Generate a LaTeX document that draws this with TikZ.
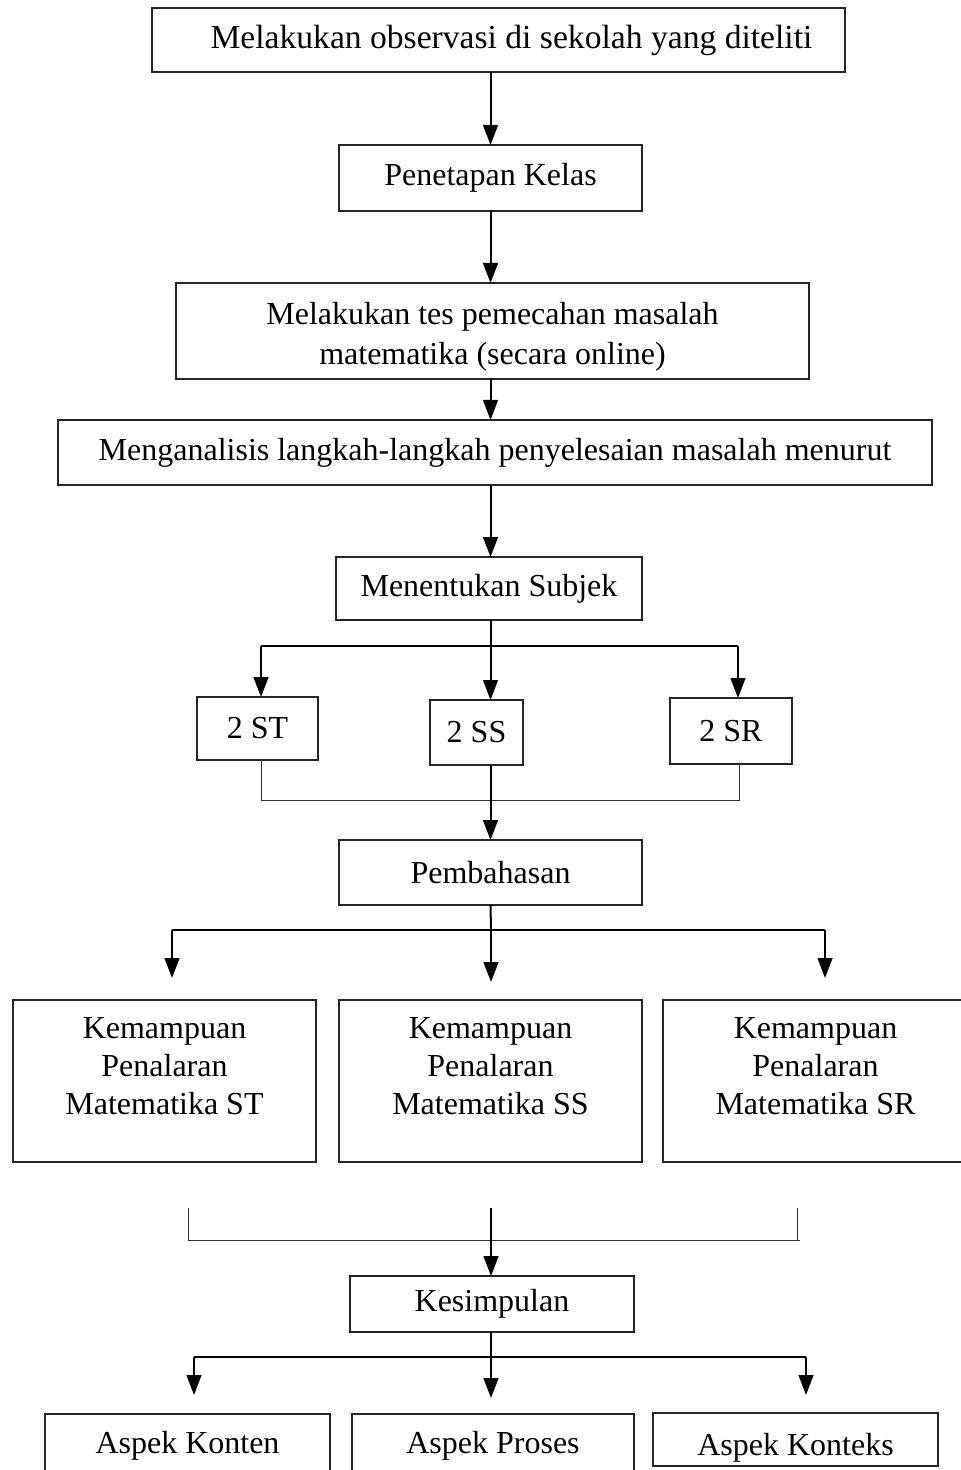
\documentclass[tikz,border=0pt]{standalone}
\usepackage{fontspec}
\setmainfont{Liberation Serif}
\usetikzlibrary{arrows.meta}
\newcommand\mybox[7][]{%
  \pgfmathsetmacro\cxx{(#3+#5)/2}\pgfmathsetmacro\cyy{(#4+#6)/2}%
  \pgfmathsetmacro\ww{(#5-#3)*0.5}\pgfmathsetmacro\hh{(#6-#4)*0.5}%
  \node[box,#1,minimum width=\ww pt,minimum height=\hh pt] (#2) at (\cxx,\cyy) {#7};}
\begin{document}
\begin{tikzpicture}[x=0.5pt,y=-0.5pt,
  box/.style={draw=black!85,line width=0.6pt,inner sep=0pt,outer sep=0pt,align=center,
    font=\fontsize{16}{19}\selectfont},
  conn/.style={line width=1pt},
  thin/.style={line width=0.5pt,draw=black!80},
  arr/.style={line width=1pt,-{Triangle[length=10pt,width=7.4pt]}}]
\clip (0,0) rectangle (961,1470);
\fill[white] (0,0) rectangle (961,1470);
% boxes
\mybox[font=\fontsize{16.8}{19}\selectfont]{b1}{152}{8}{845}{72}{\hspace*{13pt}Melakukan observasi di sekolah yang diteliti}
\mybox{b2}{339}{145}{642}{211}{Penetapan Kelas}
\mybox[font=\fontsize{16}{20}\selectfont]{b3}{176}{283}{809}{379}{\mbox{}\\[-3.5pt]Melakukan tes pemecahan masalah\\matematika (secara online)}
\mybox{b4}{58}{420}{932}{485}{Menganalisis langkah-langkah penyelesaian masalah menurut}
\mybox{b5}{336}{557}{642}{620}{Menentukan Subjek}
\mybox{st}{197}{697}{318}{760}{2 ST}
\mybox{ss}{430}{700}{523}{765}{2 SS}
\mybox{sr}{670}{698}{792}{764}{2 SR}
\mybox{pb}{339}{840}{642}{905}{Pembahasan}
\mybox{k1}{13}{1000}{316}{1162}{Kemampuan\\Penalaran\\Matematika ST\\[-4pt]\mbox{}}
\mybox{k2}{339}{1000}{642}{1162}{Kemampuan\\Penalaran\\Matematika SS\\[-4pt]\mbox{}}
\mybox{k3}{663}{1000}{968}{1162}{Kemampuan\\Penalaran\\Matematika SR\\[-4pt]\mbox{}}
\mybox{kes}{350}{1276}{634}{1332}{Kesimpulan}
\mybox{a1}{45}{1414}{330}{1478}{Aspek Konten}
\mybox{a2}{352}{1414}{634}{1478}{Aspek Proses}
\mybox[text height=15.7pt,text depth=0pt]{a3}{653}{1413}{938}{1466}{Aspek Konteks}
% coordinates
\coordinate (f1l) at (261,646);
\coordinate (f1r) at (738,646);
\coordinate (j1l) at (261,800);
\coordinate (j1r) at (739,800);
\coordinate (f2) at (491,930);
\coordinate (e2l) at (172,978);
\coordinate (e2m) at (491,982);
\coordinate (e2r) at (825,978);
\coordinate (g1) at (188,1208);
\coordinate (g2) at (797,1208);
\coordinate (gm) at (491,1208);
\coordinate (j2) at (491,1240);
\coordinate (j2r) at (800,1240);
\coordinate (f3) at (491,1357);
\coordinate (e3l) at (194,1395);
\coordinate (e3m) at (491,1398);
\coordinate (e3r) at (806,1395);
% connectors
\draw[arr] (b1.south -| b2.north) -- (b2.north);
\draw[arr] (b2.south) -- (b2.south |- b3.north);
\draw[arr] (b2.south |- b3.south) -- (b2.south |- b4.north);
\draw[arr] (b2.south |- b4.south) -- (b2.south |- b5.north);
\draw[arr] (b2.south |- b5.south) -- (b2.south |- ss.north);
\draw[conn] (f1l) -- (f1r);
\draw[arr] (f1l) -- (f1l |- st.north);
\draw[arr] (f1r) -- (f1r |- sr.north);
\draw[thin] (j1l |- st.south) -- (j1l) -- (j1r) -- (j1r |- sr.south);
\draw[arr] (b2.south |- ss.south) -- (b2.south |- pb.north);
\draw[conn] (b2.south |- pb.south) -- (f2);
\draw[conn] (f2 -| e2l) -- (f2 -| e2r);
\draw[arr] (f2 -| e2l) -- (e2l);
\draw[arr] (f2) -- (e2m);
\draw[arr] (f2 -| e2r) -- (e2r);
\draw[thin] (g1) -- (g1 |- j2) -- (j2r);
\draw[thin] (g2) -- (g2 |- j2);
\draw[arr] (gm) -- (gm |- kes.north);
\draw[conn] (gm |- kes.south) -- (f3);
\draw[conn] (f3 -| e3l) -- (f3 -| e3r);
\draw[arr] (f3 -| e3l) -- (e3l);
\draw[arr] (f3) -- (e3m);
\draw[arr] (f3 -| e3r) -- (e3r);
\end{tikzpicture}
\end{document}
